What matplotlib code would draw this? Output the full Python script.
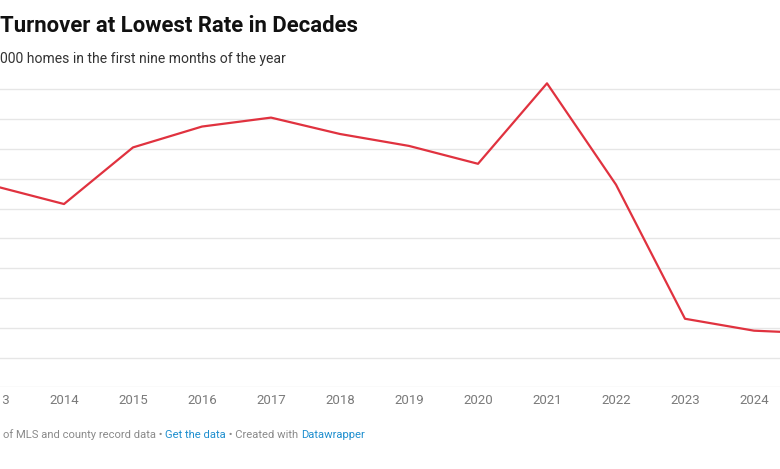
import matplotlib
matplotlib.use("Agg")
import matplotlib.pyplot as plt
from matplotlib.text import Annotation

# Data (turnover per 1,000 homes, estimated scale)
years = [2013, 2014, 2015, 2016, 2017, 2018, 2019, 2020, 2021, 2022, 2023, 2024, 2025]
values = [35.5, 34.3, 38.1, 39.5, 40.1, 39.0, 38.2, 37.0, 42.4, 35.6, 26.6, 25.8, 25.6]
tick_years = list(range(2013, 2025))
grid_values = list(range(22, 43, 2))

title = "Turnover at Lowest Rate in Decades"
subtitle = "000 homes in the first nine months of the year"
footer_parts = [("of MLS and county record data \u2022 ", "#8a8a8a"),
                ("Get the data", "#1f8fcf"),
                (" \u2022 Created with ", "#8a8a8a"),
                ("Datawrapper", "#1f8fcf")]

plt.rcParams['font.family'] = ['Roboto', 'DejaVu Sans']

W, H = 780, 469
fig = plt.figure(figsize=(W / 100, H / 100), dpi=100)

# pixel mapping: 2014 at x=64, 69 px/year; y 22 at 387.3 px, 14.9 px/unit
px_per_year = 69.0
x_left_year, x_right_year = 2012.5, 2025.5
left_px = 64 + (x_left_year - 2014) * px_per_year
width_px = (x_right_year - x_left_year) * px_per_year
ymin, ymax = 22, 43
px_per_unit = 14.9
bottom_px = 387.3
height_px = (ymax - ymin) * px_per_unit
ax = fig.add_axes([left_px / W, (H - bottom_px) / H, width_px / W, height_px / H])
ax.set_xlim(x_left_year, x_right_year)
ax.set_ylim(ymin, ymax)

for g in grid_values:
    ax.axhline(g, color="#e6e6e6", lw=1.0, zorder=1)

ax.plot(years, values, color="#e0323f", lw=1.6, zorder=3)

for s in ax.spines.values():
    s.set_visible(False)
ax.set_yticks([])
ax.set_xticks(tick_years)
ax.set_xticklabels([str(y) for y in tick_years])
ax.tick_params(axis='x', length=0, pad=5, labelsize=9.5, labelcolor="#7a7a7a")

fig.text(0, 1 - 26.5 / H, title, fontsize=15.9, fontweight='bold', color="#111111",
         va='center', ha='left')
fig.text(0, 1 - 59 / H, subtitle, fontsize=10.1, color="#333333", va='center', ha='left')

fs = 8.1
prev = fig.text(3 / W, 1 - 438 / H, footer_parts[0][0], fontsize=fs,
                color=footer_parts[0][1], va='baseline', ha='left')
for txt, col in footer_parts[1:]:
    prev = fig.add_artist(Annotation(
        txt, xy=(1, 0), xycoords=prev, xytext=(0, 0), textcoords='offset points',
        fontsize=fs, color=col, va='bottom', ha='left'))

fig.savefig("out.png", dpi=100)
